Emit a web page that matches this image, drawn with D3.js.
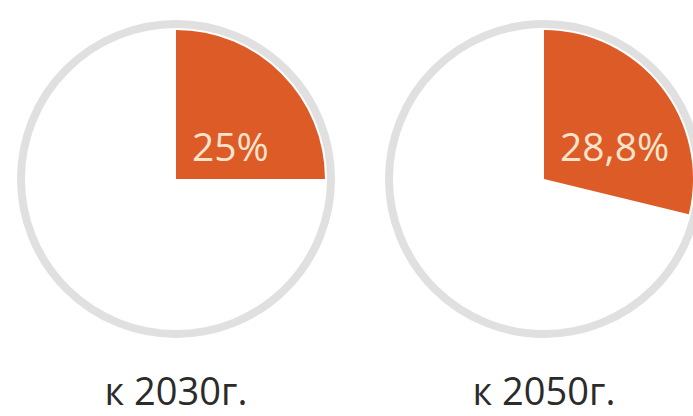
<!DOCTYPE html>
<html>
<head>
<meta charset="utf-8">
<script src="https://cdn.jsdelivr.net/npm/d3@7"></script>
<style>
  body { margin: 0; background: #fff; }
  svg { display: block; }
</style>
</head>
<body>
<div class="chart"></div>
<script>
var svgWidth = 693;
var svgHeight = 416;

// data
var years = ["к 2030г.", "к 2050г."];
var shares = [25, 28.8];
var shareLabels = ["25%", "28,8%"];

var centersX = [176, 544];
var centerY = 179;
var ringRadius = 155;
var sliceRadius = 149;

var svg = d3.select(".chart")
    .append("svg")
    .attr("width", svgWidth)
    .attr("height", svgHeight);

var arc = d3.arc()
    .innerRadius(0)
    .outerRadius(sliceRadius);

var pie = d3.pie()
    .sort(null)
    .value(d => d);

years.forEach(function(year, i) {
    var g = svg.append("g")
        .attr("transform", `translate(${centersX[i]}, ${centerY})`);

    g.append("circle")
        .attr("r", ringRadius)
        .attr("fill", "#fff")
        .attr("stroke", "#e0e0e0")
        .attr("stroke-width", 8);

    var slices = pie([shares[i], 100 - shares[i]]);

    g.append("path")
        .attr("d", arc(slices[0]))
        .attr("fill", "#dc5b26");

    g.append("text")
        .attr("x", 16)
        .attr("y", -18)
        .attr("font-family", "'Open Sans', sans-serif")
        .attr("font-size", "39px")
        .attr("fill", "#fbe3cc")
        .text(shareLabels[i]);

    // year caption, kept just above the bottom edge
    g.append("text")
        .attr("x", 0)
        .attr("y", 226)
        .attr("text-anchor", "middle")
        .attr("font-family", "'Open Sans', sans-serif")
        .attr("font-size", "38px")
        .attr("fill", "#2b2b2b")
        .text(year);
});
</script>
</body>
</html>
